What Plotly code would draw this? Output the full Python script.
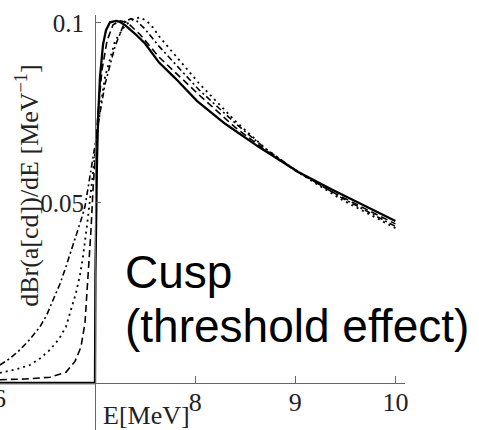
import plotly.graph_objects as go

# Differential branching ratio dBr/dE near the threshold, four smearing models
e_solid = [6.05, 6.99, 7.0, 7.004, 7.01, 7.02, 7.03, 7.05, 7.08, 7.11, 7.15, 7.21, 7.25, 7.3, 7.4,
           7.5, 7.64, 7.8, 8.02, 8.3, 8.634, 9.03, 9.36, 9.69, 10.0]
y_solid = [0.0, 0.0, 0.0, 0.030, 0.046, 0.062, 0.073, 0.085, 0.094, 0.098, 0.1002, 0.1006, 0.1003,
           0.0994, 0.0970, 0.0943, 0.0890, 0.0847, 0.0783, 0.0720, 0.0656, 0.0586, 0.0538, 0.0492, 0.0450]

e_dash = [6.05, 6.3, 6.55, 6.71, 6.8, 6.86, 6.9, 6.93, 6.96, 6.98, 7.0, 7.03, 7.07, 7.12, 7.18,
          7.25, 7.32, 7.45, 7.64, 8.04, 8.4, 8.7, 9.0, 9.36, 9.69, 10.0]
y_dash = [0.0009, 0.0011, 0.0016, 0.0030, 0.0060, 0.0100, 0.0167, 0.0286, 0.0425, 0.0536, 0.063,
          0.075, 0.087, 0.095, 0.0995, 0.1006, 0.1002, 0.0968, 0.0905, 0.0800, 0.0710, 0.0647,
          0.0590, 0.0532, 0.0485, 0.0442]

e_dot = [6.05, 6.2, 6.35, 6.45, 6.55, 6.64, 6.71, 6.76, 6.81, 6.85, 6.88, 6.93, 6.97, 7.0, 7.05,
         7.1, 7.2, 7.3, 7.38, 7.45, 7.52, 7.58, 7.64, 8.04, 8.4, 8.7, 9.0, 9.46, 10.0]
y_dot = [0.0028, 0.0037, 0.0050, 0.0068, 0.0092, 0.0122, 0.0156, 0.0200, 0.0250, 0.0300, 0.0350,
         0.0460, 0.0560, 0.0640, 0.0760, 0.0850, 0.0950, 0.0993, 0.1010, 0.1016, 0.1005, 0.0987,
         0.0963, 0.0832, 0.0728, 0.0652, 0.0590, 0.0510, 0.0430]

e_dashdot = [6.05, 6.15, 6.25, 6.35, 6.45, 6.52, 6.58, 6.65, 6.71, 6.76, 6.81, 6.86, 6.9, 6.95,
             7.0, 7.05, 7.1, 7.2, 7.3, 7.36, 7.42, 7.5, 7.64, 8.04, 8.4, 8.7, 9.0, 9.46, 10.0]
y_dashdot = [0.0050, 0.0068, 0.0092, 0.0121, 0.0156, 0.0190, 0.0230, 0.0275, 0.0323, 0.0365,
             0.0406, 0.0452, 0.0490, 0.0570, 0.0660, 0.0750, 0.0830, 0.0935, 0.1005, 0.1012,
             0.1005, 0.0983, 0.0935, 0.0814, 0.0722, 0.0651, 0.0592, 0.0515, 0.0435]

x_ticks = [8, 9, 10]
x_tick_text = ["8", "9", "10"]
x_left_tick_text = "6"
y_ticks = [0.05, 0.1]
y_tick_text = ["0.05", "0.1"]

W, H = 479, 430
X_RANGE = [6.0514, 10.1]
Y_RANGE = [-0.01306, 0.10222]
X_DOMAIN = [0.0, 408 / W]
E_ORIGIN = 7.0

serif = "Liberation Serif"
sans = "Liberation Sans"

fig = go.Figure()

styles = [
    (e_dashdot, y_dashdot, "6px,3px,2px,3px", 1.6),
    (e_dot, y_dot, "2px,4px", 1.8),
    (e_dash, y_dash, "7px,4px", 1.6),
    (e_solid, y_solid, "solid", 2.3),
]
for ex, ey, dash, w in styles:
    fig.add_trace(go.Scatter(x=ex, y=ey, mode="lines",
                             line=dict(color="black", width=w, dash=dash),
                             showlegend=False, hoverinfo="skip"))

# axes cross at (E_ORIGIN, 0)
y_axis_pos = X_DOMAIN[0] + (E_ORIGIN - X_RANGE[0]) / (X_RANGE[1] - X_RANGE[0]) * (X_DOMAIN[1] - X_DOMAIN[0])
x_axis_pos = (0 - Y_RANGE[0]) / (Y_RANGE[1] - Y_RANGE[0])

fig.update_layout(
    width=W, height=H,
    margin=dict(l=0, r=0, t=15, b=0),
    paper_bgcolor="white", plot_bgcolor="white",
    xaxis=dict(range=X_RANGE, domain=X_DOMAIN, anchor="free", position=x_axis_pos,
               showgrid=False, zeroline=False, showline=True, linecolor="#666", linewidth=1.2,
               tickmode="array", tickvals=x_ticks, ticktext=x_tick_text,
               ticks="inside", ticklen=7, tickwidth=1, tickcolor="#666",
               ticklabelstandoff=-4,
               tickfont=dict(family=serif, size=26, color="#222")),
    yaxis=dict(range=Y_RANGE, domain=[0, 1], anchor="free", position=y_axis_pos,
               showgrid=False, zeroline=False, showline=True, linecolor="#666", linewidth=1.2,
               tickmode="array", tickvals=y_ticks, ticktext=y_tick_text,
               ticks="inside", ticklen=5, tickwidth=1, tickcolor="#666",
               ticklabelstandoff=6,
               tickfont=dict(family=serif, size=25, color="#222")),
)

plot_h = H - 15


def px_x(p):
    return p / W


def px_y(p):
    return (H - p) / plot_h


fig.add_annotation(text="E[MeV]", xref="paper", yref="paper", x=px_x(102), y=px_y(415),
                   xanchor="left", yanchor="middle", showarrow=False,
                   font=dict(family=serif, size=26, color="#222"))
# tick label at E = 6, partly beyond the left edge
fig.add_annotation(text=x_left_tick_text, xref="paper", yref="paper", x=px_x(-1), y=px_y(398),
                   xanchor="center", yanchor="middle", showarrow=False,
                   font=dict(family=serif, size=26, color="#222"))
fig.add_annotation(text="dBr(a[cd])/dE [MeV<sup>−1</sup>]", xref="paper", yref="paper",
                   x=px_x(28), y=px_y(186), textangle=-90,
                   xanchor="center", yanchor="middle", showarrow=False,
                   font=dict(family=serif, size=26, color="#222"))
fig.add_annotation(text="Cusp", xref="paper", yref="paper", x=px_x(124), y=px_y(272),
                   xanchor="left", yanchor="middle", showarrow=False,
                   font=dict(family=sans, size=46, color="black"))
fig.add_annotation(text="(threshold effect)", xref="paper", yref="paper", x=px_x(124), y=px_y(326),
                   xanchor="left", yanchor="middle", showarrow=False,
                   font=dict(family=sans, size=46, color="black"))

fig.write_html("out.html")
